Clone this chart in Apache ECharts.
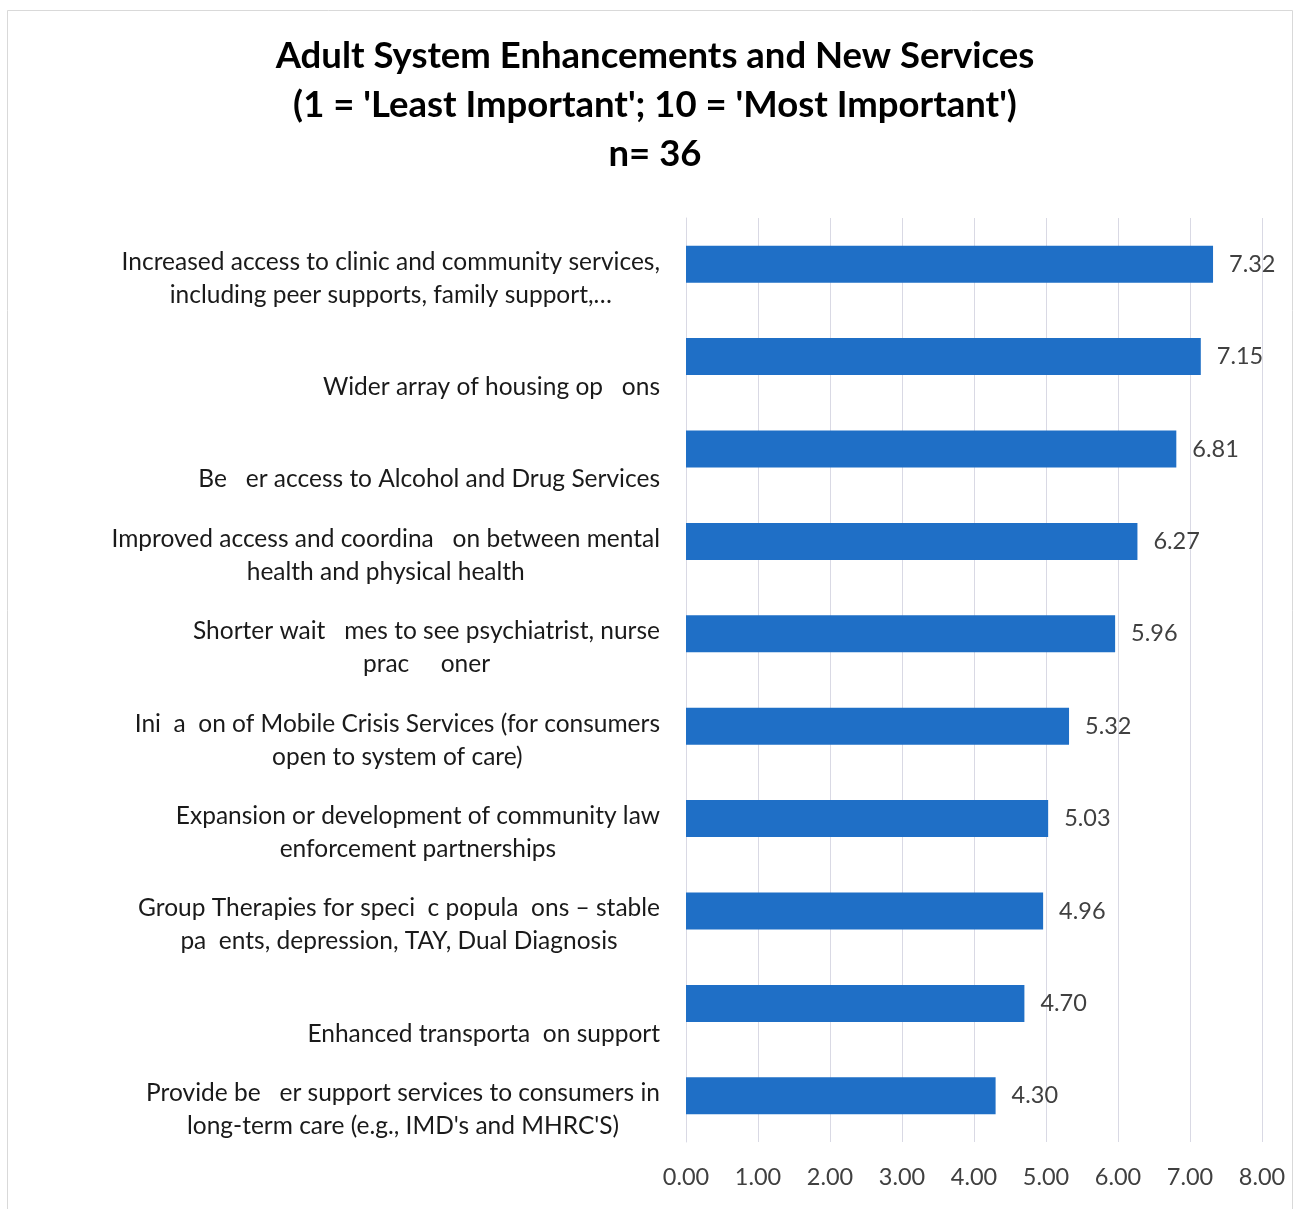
<!DOCTYPE html>
<html>
<head>
<meta charset="utf-8">
<title>Adult System Enhancements and New Services</title>
<script src="https://cdn.jsdelivr.net/npm/echarts@6/dist/echarts.min.js"></script>
<style>
  html, body { margin: 0; padding: 0; background: #ffffff; }
  #chart { width: 1300px; height: 1209px; }
</style>
</head>
<body>
<div id="chart"></div>
<script>
// Survey items, top to bottom (lines split with \n; a leading \n drops a one-line item to the lower row)
const categories = [
  "Increased access to clinic and community services,\nincluding peer supports, family support,\u2026",
  "\nWider array of housing op   ons",
  "\nBe   er access to Alcohol and Drug Services",
  "Improved access and coordina   on between mental\nhealth and physical health",
  "Shorter wait   mes to see psychiatrist, nurse\nprac     oner",
  "Ini  a  on of Mobile Crisis Services (for consumers\nopen to system of care)",
  "Expansion or development of community law\nenforcement partnerships",
  "Group Therapies for speci  c popula  ons \u2013 stable\npa  ents, depression, TAY, Dual Diagnosis",
  "\nEnhanced transporta  on support",
  "Provide be   er support services to consumers in\nlong-term care (e.g., IMD's and MHRC'S)"
];

// Mean importance rating (1-10 scale)
const values = [7.32, 7.15, 6.81, 6.27, 5.96, 5.32, 5.03, 4.96, 4.70, 4.30];

const titleLines = [
  "Adult System Enhancements and New Services",
  "(1 = 'Least Important'; 10 = 'Most Important')",
  "n= 36"
];

const FONT = "Lato, 'Open Sans', sans-serif";
const TEXT_COLOR = "#404040";
const LABEL_COLOR = "#1a1a1a";

const chart = echarts.init(document.getElementById("chart"), null, { renderer: "canvas" });

chart.setOption({
  backgroundColor: "#ffffff",
  animation: false,
  graphic: [{
    type: "rect",
    shape: { x: 7.5, y: 10.5, width: 1285, height: 1210 },
    style: { fill: "none", stroke: "#d9d9d9", lineWidth: 1 },
    silent: true,
    z: -10
  }],
  title: {
    text: titleLines.join("\n"),
    left: 650,
    textAlign: "center",
    top: 27,
    textStyle: {
      fontFamily: FONT,
      fontSize: 36.5,
      fontWeight: "bold",
      color: "#000000",
      lineHeight: 49
    }
  },
  grid: {
    left: 686,
    right: 38,
    top: 218,
    bottom: 67,
    containLabel: false
  },
  xAxis: {
    type: "value",
    min: 0,
    max: 8,
    interval: 1,
    axisLine: { show: false },
    axisTick: { show: false },
    splitLine: { show: true, lineStyle: { color: "#d9d9e4", width: 1 } },
    axisLabel: {
      margin: 23,
      fontFamily: FONT,
      fontSize: 23.5,
      color: TEXT_COLOR,
      formatter: v => v.toFixed(2)
    }
  },
  yAxis: {
    type: "category",
    data: categories,
    inverse: true,
    axisLine: { show: true, lineStyle: { color: "#d9d9e4", width: 1 } },
    axisTick: { show: false },
    splitLine: { show: false },
    axisLabel: {
      interval: 0,
      showMinLabel: true,
      showMaxLabel: true,
      hideOverlap: false,
      margin: 26,
      align: "right",
      verticalAlign: "middle",
      padding: [28, 0, 0, 0],
      fontFamily: FONT,
      fontSize: 24.5,
      lineHeight: 33,
      color: LABEL_COLOR,
      formatter: label => label.split("\n").map(l => l ? "{c|" + l + "}" : "").join("\n"),
      rich: {
        c: {
          align: "center",
          fontFamily: FONT,
          fontSize: 24.5,
          lineHeight: 33,
          color: LABEL_COLOR
        }
      }
    }
  },
  series: [{
    type: "bar",
    data: values,
    barWidth: 37,
    itemStyle: { color: "#1f6fc6" },
    label: {
      show: true,
      position: "right",
      distance: 16,
      fontFamily: FONT,
      fontSize: 23.5,
      color: TEXT_COLOR,
      formatter: p => p.value.toFixed(2)
    }
  }]
});
</script>
</body>
</html>
